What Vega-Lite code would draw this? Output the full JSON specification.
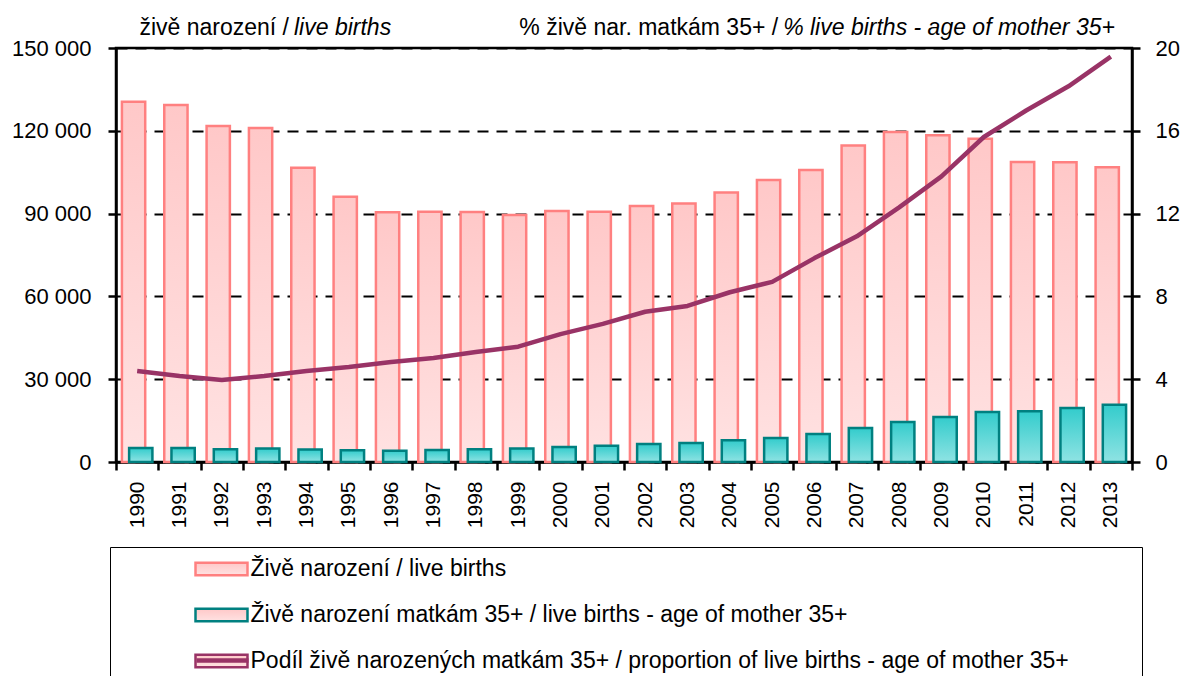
{
  "$schema": "https://vega.github.io/schema/vega-lite/v6.json",
  "autosize": {"type": "none"},
  "padding": {"left": 116, "top": 48, "right": 52, "bottom": 214},
  "width": 1016,
  "height": 414,
  "background": "white",
  "config": {
    "font": "Liberation Sans",
    "view": {"stroke": "black", "strokeWidth": 2.5},
    "axis": {
      "domainColor": "black", "domainWidth": 2.5, "tickColor": "black", "tickWidth": 2.5, "tickSize": 8,
      "labelColor": "black", "labelFont": "Liberation Sans", "labelFontSize": 22, "title": null
    },
    "text": {"font": "Liberation Sans", "fontSize": 23, "color": "black"}
  },
  "datasets": {
    "births": [
      {"year": "1990", "total": 130564, "age35": 5100, "share": 4.40},
      {"year": "1991", "total": 129354, "age35": 5100, "share": 4.15},
      {"year": "1992", "total": 121705, "age35": 4600, "share": 3.96},
      {"year": "1993", "total": 121025, "age35": 4850, "share": 4.15},
      {"year": "1994", "total": 106579, "age35": 4500, "share": 4.40},
      {"year": "1995", "total": 96097, "age35": 4250, "share": 4.59},
      {"year": "1996", "total": 90446, "age35": 4100, "share": 4.83},
      {"year": "1997", "total": 90657, "age35": 4350, "share": 5.02},
      {"year": "1998", "total": 90535, "age35": 4600, "share": 5.31},
      {"year": "1999", "total": 89471, "age35": 4900, "share": 5.57},
      {"year": "2000", "total": 90910, "age35": 5400, "share": 6.18},
      {"year": "2001", "total": 90715, "age35": 5900, "share": 6.67},
      {"year": "2002", "total": 92786, "age35": 6500, "share": 7.26},
      {"year": "2003", "total": 93685, "age35": 6900, "share": 7.54},
      {"year": "2004", "total": 97664, "age35": 7900, "share": 8.20},
      {"year": "2005", "total": 102211, "age35": 8700, "share": 8.70},
      {"year": "2006", "total": 105831, "age35": 10100, "share": 9.85},
      {"year": "2007", "total": 114632, "age35": 12300, "share": 10.90},
      {"year": "2008", "total": 119570, "age35": 14500, "share": 12.30},
      {"year": "2009", "total": 118348, "age35": 16300, "share": 13.80},
      {"year": "2010", "total": 117153, "age35": 18100, "share": 15.70},
      {"year": "2011", "total": 108673, "age35": 18400, "share": 16.98},
      {"year": "2012", "total": 108576, "age35": 19600, "share": 18.15},
      {"year": "2013", "total": 106751, "age35": 20700, "share": 19.58}
    ]
  },
  "layer": [
    {
      "layer": [
        {
          "data": {"name": "births"},
          "mark": {
            "type": "bar", "width": {"band": 0.55}, "xOffset": -3.6, "strokeWidth": 2.5,
            "fill": {"gradient": "linear", "x1": 0, "y1": 0, "x2": 0, "y2": 1,
              "stops": [{"offset": 0, "color": "#FFC8C8"}, {"offset": 1, "color": "#FFE2E2"}]}
          },
          "encoding": {
            "x": {
              "field": "year", "type": "ordinal",
              "scale": {"paddingInner": 0, "paddingOuter": 0},
              "axis": {"labelAngle": -90, "labelFontSize": 21, "tickBand": "extent", "labelPadding": 11, "labelAlign": "right", "labelBaseline": "middle"}
            },
            "y": {
              "field": "total", "type": "quantitative",
              "scale": {"domain": [0, 150000], "nice": false},
              "axis": {
                "values": [0, 30000, 60000, 90000, 120000, 150000],
                "labelExpr": "replace(format(datum.value, ','), ',', ' ')",
                "labelPadding": 17, "grid": true, "gridColor": "black", "gridWidth": 2, "gridDash": [11, 8]
              }
            },
            "stroke": {
              "datum": "Živě narození / live births", "type": "nominal",
              "scale": {
                "domain": ["Živě narození / live births", "Živě narození matkám 35+ / live births - age of mother 35+", "Podíl živě narozených matkám 35+ / proportion of live births - age of mother 35+"],
                "range": ["#FF8080", "#008080", "#993366"]
              },
              "legend": {
                "orient": "none", "legendX": -6, "legendY": 499, "direction": "vertical",
                "title": "\u00a0", "titleOrient": "right", "titlePadding": 64, "titleFontSize": 23,
                "padding": 9, "strokeColor": "black",
                "symbolSize": 529, "symbolOffset": 89.5, "labelOffset": 16,
                "labelFontSize": 23, "labelFont": "Liberation Sans", "labelColor": "black", "labelLimit": 2000,
                "rowPadding": 21, "symbolStrokeWidth": 2.5,
                "symbolType": "M-2.26,-0.54H2.26V0.54H-2.26Z",
                "encode": {
                  "legend": {"strokeWidth": {"value": 2}},
                  "symbols": {
                    "stroke": {"value": {"expr": "datum.index === 0 ? '#FF8080' : datum.index === 1 ? '#008080' : 'transparent'"}},
                    "opacity": {"value": {"expr": "datum.index === 2 ? 0 : 1"}},
                    "fill": {"value": {"expr": "datum.index === 0 ? {gradient: 'linear', x1: 0, y1: 0, x2: 0, y2: 1, stops: [{offset: 0, color: '#FFC8C8'}, {offset: 1, color: '#FFE2E2'}]} : datum.index === 1 ? {gradient: 'linear', x1: 0, y1: 0, x2: 0, y2: 1, stops: [{offset: 0, color: '#33CCCC'}, {offset: 1, color: '#8FE3E3'}]} : 'transparent'"}}
                  }
                }
              }
            }
          }
        },
        {
          "data": {"name": "births"},
          "mark": {
            "type": "bar", "width": {"band": 0.55}, "xOffset": 3.6, "strokeWidth": 2.5,
            "fill": {"gradient": "linear", "x1": 0, "y1": 0, "x2": 0, "y2": 1,
              "stops": [{"offset": 0, "color": "#33CCCC"}, {"offset": 1, "color": "#8FE3E3"}]}
          },
          "encoding": {
            "x": {"field": "year", "type": "ordinal"},
            "y": {"field": "age35", "type": "quantitative"},
            "stroke": {"datum": "Živě narození matkám 35+ / live births - age of mother 35+", "type": "nominal"}
          }
        },
        {
          "data": {"values": [{"t": "živě narození /"}]},
          "mark": {"type": "text", "align": "right", "baseline": "alphabetic", "dx": -17.5, "dy": -13},
          "encoding": {"x": {"datum": "1994", "type": "ordinal"}, "y": {"datum": 150000, "type": "quantitative"}, "text": {"field": "t"}}
        },
        {
          "data": {"values": [{"t": "live births"}]},
          "mark": {"type": "text", "align": "left", "baseline": "alphabetic", "fontStyle": "italic", "dx": -12.5, "dy": -13},
          "encoding": {"x": {"datum": "1994", "type": "ordinal"}, "y": {"datum": 150000, "type": "quantitative"}, "text": {"field": "t"}}
        },
        {
          "data": {"values": [{"t": "% živě nar. matkám 35+ /"}]},
          "mark": {"type": "text", "align": "right", "baseline": "alphabetic", "dx": 6, "dy": -13},
          "encoding": {"x": {"datum": "2005", "type": "ordinal"}, "y": {"datum": 150000, "type": "quantitative"}, "text": {"field": "t"}}
        },
        {
          "data": {"values": [{"t": "% live births - age of mother 35+"}]},
          "mark": {"type": "text", "align": "left", "baseline": "alphabetic", "fontStyle": "italic", "dx": 11, "dy": -13},
          "encoding": {"x": {"datum": "2005", "type": "ordinal"}, "y": {"datum": 150000, "type": "quantitative"}, "text": {"field": "t"}}
        }
      ]
    },
    {
      "data": {"name": "births"},
      "mark": {"type": "line", "stroke": "#993366", "strokeJoin": "round"},
      "encoding": {
        "x": {"field": "year", "type": "ordinal"},
        "y": {
          "field": "share", "type": "quantitative",
          "scale": {"domain": [0, 20], "nice": false},
          "axis": {"orient": "right", "values": [0, 4, 8, 12, 16, 20], "labelPadding": 15, "grid": false}
        },
        "strokeWidth": {
          "datum": "Podíl živě narozených matkám 35+ / proportion of live births - age of mother 35+", "type": "nominal",
          "scale": {"type": "ordinal", "range": [4.5]},
          "legend": {
            "orient": "none", "legendX": 78, "legendY": 584, "title": null, "padding": 0,
            "symbolType": "stroke", "symbolSize": 2704, "symbolOffset": 0,
            "symbolStrokeColor": "#993366", "labelExpr": "''", "labelFontSize": 1
          }
        }
      }
    }
  ],
  "resolve": {"scale": {"y": "independent"}}
}
